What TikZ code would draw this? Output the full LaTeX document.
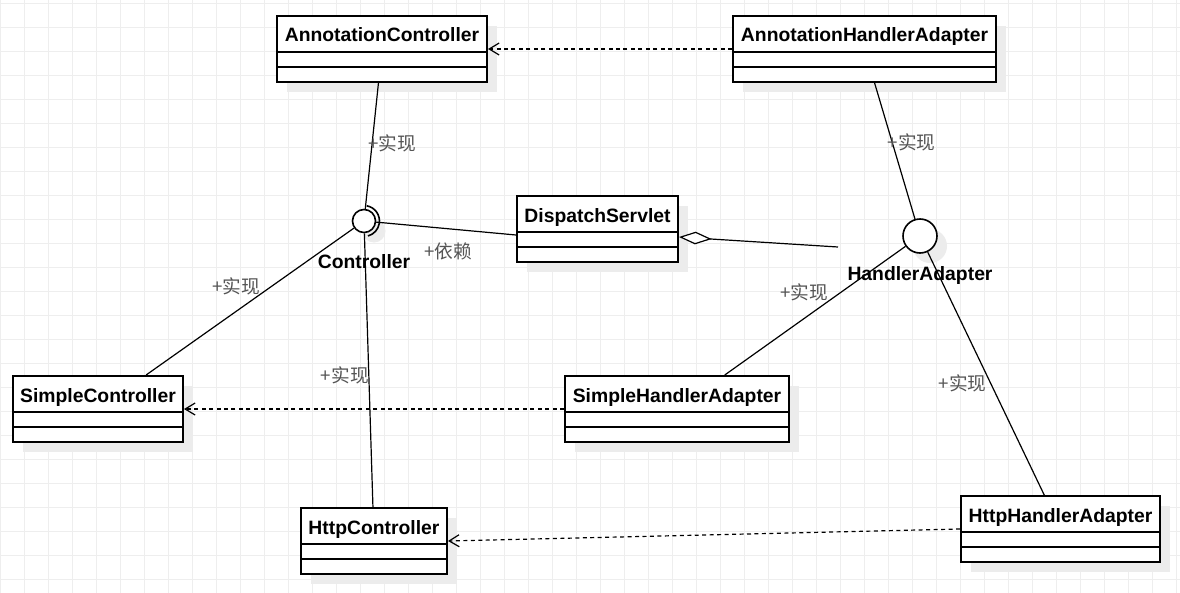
\documentclass[tikz,border=0pt]{standalone}
\usepackage{fontspec}
\setmainfont{Liberation Sans}
\newfontfamily\cjkfont{Noto Sans CJK SC}
\usetikzlibrary{arrows.meta,shadows,calc}
\definecolor{gridgray}{RGB}{238,238,238}
\definecolor{shadowgray}{RGB}{236,236,236}
\definecolor{labelgray}{RGB}{85,85,85}

% the two empty compartments of a class box
\newcommand{\compartments}[1]{%
  \draw[line width=1.5pt] ([yshift=-27.75pt]#1.north west) -- ([yshift=-27.75pt]#1.north east)
    ([yshift=-39pt]#1.north west) -- ([yshift=-39pt]#1.north east);}

\begin{document}
\begin{tikzpicture}[x=0.75pt, y=-0.75pt,
    classbox/.style={draw, line width=1.5pt, fill=white, anchor=north west, inner sep=0pt,
      text height=19.5pt, text depth=30pt, font=\fontsize{14.5}{17}\selectfont\bfseries,
      drop shadow={shadow xshift=7.5pt, shadow yshift=-7.5pt, fill=shadowgray, opacity=1}},
    iface/.style={circle, draw, line width=1.2pt, fill=white, inner sep=0pt,
      drop shadow={shadow xshift=7.5pt, shadow yshift=-7.5pt, fill=shadowgray, opacity=1}},
    iflabel/.style={font=\fontsize{14.5}{17}\selectfont\bfseries, inner sep=0pt},
    edgelabel/.style={font=\fontsize{14}{16}\cjkfont, text=labelgray, inner sep=0pt},
    connector/.style={line width=0.9pt},
    dependency/.style={line width=0.9pt, dash pattern=on 3pt off 2.6pt,
      -{Straight Barb[length=7.5pt, width=9pt]}},
    aggregation/.style={line width=0.9pt, -{Diamond[fill=white, length=24.5pt, width=9.5pt]}}]
    \useasboundingbox (0,0) rectangle (1180,592);
    \fill[white] (0,0) rectangle (1180,592);
    \draw[gridgray, line width=0.6pt, step=18pt, yshift=-2.25pt] (0,595) grid (1180,-3);

    % classes
    \node[classbox, minimum width=157.5pt] (ac) at (276,15) {AnnotationController};
    \node[classbox, minimum width=197.25pt] (aha) at (732,15) {AnnotationHandlerAdapter};
    \node[classbox, minimum width=120.75pt] (ds) at (516,195) {DispatchServlet};
    \node[classbox, minimum width=127.5pt] (sc) at (12,375) {SimpleController};
    \node[classbox, minimum width=168pt] (sha) at (564,375) {SimpleHandlerAdapter};
    \node[classbox, minimum width=109.5pt] (hc) at (300,507) {HttpController};
    \node[classbox, minimum width=149.25pt] (hha) at (960,495) {HttpHandlerAdapter};
    \compartments{ac}
    \compartments{aha}
    \compartments{ds}
    \compartments{sc}
    \compartments{sha}
    \compartments{hc}
    \compartments{hha}

    % interfaces
    \node[iface, minimum size=17.25pt,
      label={[iflabel, label distance=15.5pt]below:Controller}] (ctrl) at (364,221) {};
    \draw[line width=1.2pt] ([shift={(80:11.6pt)}]ctrl.center) arc[start angle=80, end angle=-75, radius=11.6pt];
    \node[iface, minimum size=25.5pt,
      label={[iflabel, label distance=9.5pt]below:HandlerAdapter}] (ha) at (920,236) {};

    % realisations
    \draw[connector] (ac) -- node[edgelabel, pos=0.48, xshift=15pt] {+实现} (ctrl);
    \draw[connector] (sc) -- node[edgelabel, pos=0.6, xshift=-26pt] {+实现} (ctrl);
    \draw[connector] (hc) -- node[edgelabel, pos=0.48, xshift=-18pt] {+实现} (ctrl);
    \draw[connector] (aha) -- node[edgelabel, pos=0.44, xshift=14.5pt] {+实现} (ha);
    \draw[connector] (sha) -- node[edgelabel, pos=0.64, xshift=-27pt] {+实现} (ha);
    \draw[connector] (hha) -- node[edgelabel, pos=0.46, xshift=-21pt] {+实现} (ha);

    % dispatcher
    \draw[connector] (ctrl) -- node[edgelabel, xshift=1.5pt, yshift=-17pt] {+依赖} ([yshift=-4.5pt]ds.west);
    \coordinate (aggend) at (838,247);
    \draw[aggregation] (aggend) -- ([yshift=-6pt]ds.east);

    % dependencies
    \draw[dependency] (aha.west) -- (ac.east);
    \draw[dependency] (sha.west) -- (sc.east);
    \draw[dependency] (hha.west) -- (hc.east);
\end{tikzpicture}
\end{document}
